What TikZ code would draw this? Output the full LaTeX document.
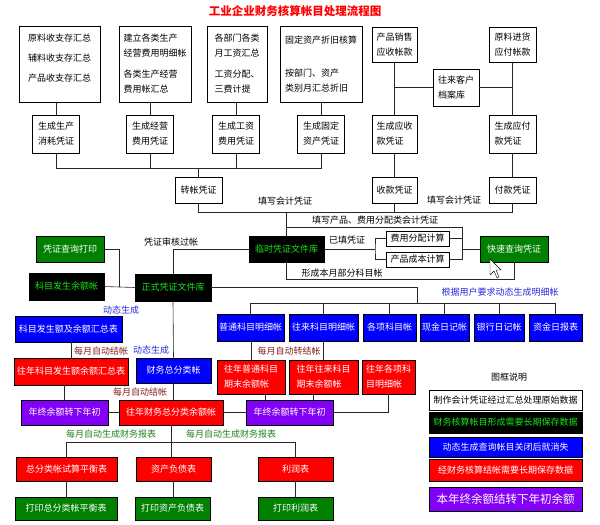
\documentclass[tikz,border=0pt]{standalone}
\usepackage{fontspec}
\setmainfont{Noto Sans CJK SC}
\definecolor{cGreen}{RGB}{0,128,0}
\definecolor{cLime}{RGB}{20,230,20}
\definecolor{cBlue}{RGB}{0,0,255}
\definecolor{cRed}{RGB}{255,0,0}
\definecolor{cPurple}{RGB}{130,0,245}
\definecolor{cNoteBlue}{RGB}{40,40,220}
\definecolor{cNoteRed}{RGB}{128,30,30}
\definecolor{cNoteGreen}{RGB}{30,130,30}

\tikzset{
  box/.style={draw=black, line width=0.6pt, align=left, inner sep=1pt,
    font=\fontsize{9}{15}\selectfont},
  greenbox/.style={box, fill=cGreen, text=white},
  darkbox/.style={box, fill=black, text=cLime},
  bluebox/.style={box, fill=cBlue, text=white},
  redbox/.style={box, fill=cRed, text=white},
  purplebox/.style={box, fill=cPurple, text=white},
  note/.style={inner sep=0pt, font=\fontsize{9}{11}\selectfont},
  link/.style={draw=black!85, line width=0.6pt},
}

\begin{document}
\begin{tikzpicture}[x=1pt,y=-1pt]
\useasboundingbox (0,0) rectangle (600,525);

\node[font=\bfseries\fontsize{11.5}{14}\selectfont, text=red] (title) at (295,11) {工业企业财务核算帐目处理流程图};

% source data
\node[box, minimum width=81pt, minimum height=76pt] (srcA) at (59.5,64) {原料收支存汇总\\[5pt]辅料收支存汇总\\[5pt]产品收支存汇总\\[-3pt]\mbox{}};
\node[box, minimum width=72pt, minimum height=76pt] (srcB) at (155,64) {建立各类生产\\经营费用明细帐\\[6pt]各类生产经营\\费用帐汇总};
\node[box, minimum width=60pt, minimum height=76pt] (srcC) at (237,64) {各部门各类\\月工资汇总\\[6pt]工资分配、\\三费计提};
\node[box, minimum width=82pt, minimum height=76pt] (srcD) at (321,64) {固定资产折旧核算\\[18pt]按部门、资产\\类别月汇总折旧};
\node[box, minimum width=45pt, minimum height=35pt] (srcE) at (394.5,44.5) {产品销售\\应收帐款};
\node[box, minimum width=47pt, minimum height=35pt] (srcF) at (512.5,44.5) {原料进货\\应付帐款};
\node[box, minimum width=46pt, minimum height=37pt] (custG) at (456,87.5) {往来客户\\档案库};

% vouchers
\node[box, minimum width=47pt, minimum height=38pt] (genA) at (56,134) {生成生产\\消耗凭证};
\node[box, minimum width=47pt, minimum height=38pt] (genB) at (150,134) {生成经营\\费用凭证};
\node[box, minimum width=47pt, minimum height=38pt] (genC) at (236,134) {生成工资\\费用凭证};
\node[box, minimum width=47pt, minimum height=38pt] (genD) at (321,134) {生成固定\\资产凭证};
\node[box, minimum width=45pt, minimum height=38pt] (genE) at (394.5,134) {生成应收\\款凭证};
\node[box, minimum width=47pt, minimum height=38pt] (genF) at (512.5,134) {生成应付\\款凭证};

\node[box, minimum width=47pt, minimum height=26pt] (zz) at (198.5,190) {转帐凭证};
\node[box, minimum width=45pt, minimum height=26pt] (sk) at (394.5,190) {收款凭证};
\node[box, minimum width=47pt, minimum height=26pt] (fk) at (512.5,190) {付款凭证};

% voucher stores
\node[darkbox, minimum width=75pt, minimum height=26pt] (tmp) at (286.5,249) {临时凭证文件库};
\node[darkbox, minimum width=76pt, minimum height=27pt] (formal) at (173,287.5) {正式凭证文件库};
\node[box, minimum width=63pt, minimum height=15pt] (fee) at (417.5,238.5) {费用分配计算};
\node[box, minimum width=63pt, minimum height=15pt] (cost) at (417.5,259.5) {产品成本计算};
\node[greenbox, minimum width=68pt, minimum height=26pt] (quick) at (514,249) {快速查询凭证};
\node[greenbox, minimum width=68pt, minimum height=26pt] (print) at (70,249) {凭证查询打印};
\node[darkbox, minimum width=75pt, minimum height=27pt] (bal) at (66.5,286.5) {科目发生余额帐};

% cursor
\filldraw[fill=white, draw=black, line width=0.4pt] (490,259) -- (490,275) -- (494,271) -- (497,278) -- (499,277) -- (496,270) -- (501,270) -- cycle;

% ledgers
\node[bluebox, minimum width=107pt, minimum height=26pt] (sum) at (68.5,329) {科目发生额及余额汇总表};
\node[redbox, minimum width=114pt, minimum height=27pt] (oldsum) at (71,371.5) {往年科目发生额余额汇总表};
\node[bluebox, minimum width=75pt, minimum height=25pt] (ledger) at (173.5,370.5) {财务总分类帐};
\node[purplebox, minimum width=87pt, minimum height=25pt] (carryL) at (64.5,412.5) {年终余额转下年初};
\node[redbox, minimum width=104pt, minimum height=25pt] (oldledger) at (171,412.5) {往年财务总分类余额帐};
\node[purplebox, minimum width=87pt, minimum height=25pt] (carryM) at (289.5,412.5) {年终余额转下年初};

\node[bluebox, minimum width=67pt, minimum height=27pt] (dt1) at (250.5,327.5) {普通科目明细帐};
\node[bluebox, minimum width=69pt, minimum height=27pt] (dt2) at (323.5,327.5) {往来科目明细帐};
\node[bluebox, minimum width=53pt, minimum height=27pt] (dt3) at (389.5,327.5) {各项科目帐};
\node[bluebox, minimum width=49pt, minimum height=27pt] (dt4) at (444.5,327.5) {现金日记帐};
\node[bluebox, minimum width=50pt, minimum height=27pt] (dt5) at (499,327.5) {银行日记帐};
\node[bluebox, minimum width=53pt, minimum height=27pt] (dt6) at (555.5,327.5) {资金日报表};

\node[redbox, minimum width=68pt, minimum height=34pt] (old1) at (251,377) {往年普通科目\\期末余额帐};
\node[redbox, minimum width=69pt, minimum height=34pt] (old2) at (323.5,377) {往年往来科目\\期末余额帐};
\node[redbox, minimum width=53pt, minimum height=34pt] (old3) at (388.5,377) {往年各项科\\目明细帐};

% reports
\node[redbox, minimum width=101pt, minimum height=24pt] (trial) at (66.5,469) {总分类帐试算平衡表};
\node[redbox, minimum width=75pt, minimum height=24pt] (bs) at (173.5,469) {资产负债表};
\node[redbox, minimum width=75pt, minimum height=24pt] (pl) at (295.5,469) {利润表};
\node[greenbox, minimum width=102pt, minimum height=23pt] (ptrial) at (66,508.5) {打印总分类帐平衡表};
\node[greenbox, minimum width=75pt, minimum height=23pt] (pbs) at (172.5,508.5) {打印资产负债表};
\node[greenbox, minimum width=75pt, minimum height=23pt] (ppl) at (295.5,508.5) {打印利润表};

% legend
\node[note] (lgTitle) at (509,377) {图框说明};
\node[box, minimum width=153pt, minimum height=20pt] (lg1) at (505.5,400) {制作会计凭证经过汇总处理原始数据};
\node[darkbox, minimum width=153pt, minimum height=21pt] (lg2) at (505.5,422.5) {财务核算帐目形成需要长期保存数据};
\node[bluebox, minimum width=153pt, minimum height=20pt] (lg3) at (505.5,447) {动态生成查询帐目关闭后就消失};
\node[redbox, minimum width=153pt, minimum height=22pt] (lg4) at (505.5,470) {经财务核算结帐需要长期保存数据};
\node[purplebox, minimum width=153pt, minimum height=24pt, font=\fontsize{11.5}{14}\selectfont] (lg5) at (505.5,499) {本年终余额结转下年初余额};

% connector labels
\node[note] (lblFillL) at (285,201) {填写会计凭证};
\node[note] (lblFillR) at (454,200) {填写会计凭证};
\node[note] (lblAlloc) at (375,220) {填写产品、费用分配类会计凭证};
\node[note] (lblDone) at (347,240) {已填凭证};
\node[note] (lblPart) at (342,273) {形成本月部分科目帐};
\node[note] (lblAudit) at (171,242) {凭证审核过帐};
\node[note, text=cNoteBlue] (lblDyn1) at (121,310) {动态生成};
\node[note, text=cNoteBlue] (lblDyn2) at (151,350) {动态生成};
\node[note, text=cNoteBlue] (lblUser) at (500,292) {根据用户要求动态生成明细帐};
\node[note, text=cNoteRed] (lblClose1) at (101,351) {每月自动结帐};
\node[note, text=cNoteRed] (lblClose2) at (140,392) {每月自动结帐};
\node[note, text=cNoteRed] (lblTrans) at (289,351) {每月自动转结帐};
\node[note, text=cNoteGreen] (lblRep1) at (111,434) {每月自动生成财务报表};
\node[note, text=cNoteGreen] (lblRep2) at (231,434) {每月自动生成财务报表};

% buses
\coordinate (busT) at (0,168);
\coordinate (busF) at (0,212);
\coordinate (busP) at (462,227);
\coordinate (brR) at (462,249);
\coordinate (brL) at (375,249);
\coordinate (busM) at (0,279);
\coordinate (jn) at (119,287);
\coordinate (busD) at (417,303);
\coordinate (busR) at (0,442);

% top part
\foreach \s in {A,B,C,D,E,F}
  \draw[link] (gen\s.north |- src\s.south) -- (gen\s.north);
\draw[link] (custG.west) -- (custG.west -| srcE.south);
\draw[link] (custG.east) -- (custG.east -| srcF.south);
\draw[link] (genE.south) -- (sk.north);
\draw[link] (genF.south) -- (fk.north);
\draw[link] (genA.south) -- (genA.south |- busT) -- (genD.south |- busT) -- (genD.south);
\foreach \s in {B,C}
  \draw[link] (gen\s.south) -- (gen\s.south |- busT);
\draw[link] (zz.north) -- (zz.north |- busT);
\draw[link] (zz.south) -- (zz.south |- busF) -- (fk.south |- busF) -- (fk.south);
\draw[link] (sk.south) -- (sk.south |- busF);

% temporary store
\draw[link] (tmp.north |- busF) -- (tmp.north);
\draw[link] (tmp.north |- busP) -- (busP) -- (busP |- cost.east) -- (cost.east);
\draw[link] (fee.east) -- (fee.east -| brR);
\draw[link] (brR) -- (quick.west);
\draw[link] (tmp.east) -- (brL);
\draw[link] (fee.west) -| (brL) |- (cost.west);
\draw[link] (quick.south) -- (quick.south |- busM) -- (tmp.south |- busM) -- (tmp.south);
\draw[link] (tmp.west) -| (formal.north);

% formal store
\draw[link] (print.east) -| (jn);
\draw[link] (bal.east) -- (formal.west);
\draw[link] (formal.east) -| (busD);
\draw[link] (dt1.north) -- (dt1.north |- busD) -- (dt6.north |- busD) -- (dt6.north);
\foreach \d in {2,3,4,5}
  \draw[link] (dt\d.north) -- (dt\d.north |- busD);
\draw[link] (formal.south) -- (ledger.north);
\draw[link] (ledger.south) -- (ledger.south |- oldledger.north);
\draw[link] (sum.south -| oldsum.north) -- (oldsum.north);
\draw[link] (oldsum.south -| carryL.north) -- (carryL.north);
\draw[link] (carryL.east) -- (oldledger.west);
\draw[link] (oldledger.east) -- (carryM.west);

% detail ledgers
\draw[link] (dt1.south -| old1.north) -- (old1.north);
\draw[link] (dt2.south) -- (old2.north);
\draw[link] ([xshift=14pt]old1.south) -- ([xshift=14pt]old1.south |- carryM.north);
\draw[link] ([xshift=-10pt]old2.south) -- ([xshift=-10pt]old2.south |- carryM.north);
\draw[link] (old3.south) |- (carryM.east);

% reports
\draw[link] (oldledger.south) -- (oldledger.south |- bs.north);
\draw[link] (trial.north) -- (trial.north |- busR) -- (pl.north |- busR) -- (pl.north);
\draw[link] (trial.south) -- (trial.south |- ptrial.north);
\draw[link] (bs.south) -- (bs.south |- pbs.north);
\draw[link] (pl.south) -- (ppl.north);
\end{tikzpicture}
\end{document}
